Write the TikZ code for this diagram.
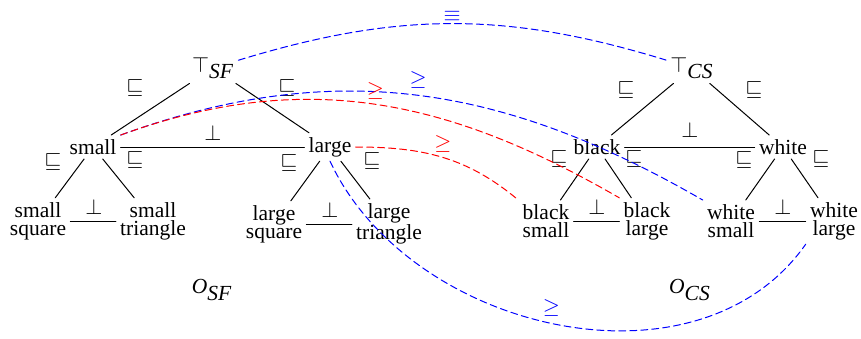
\documentclass[tikz,border=0pt]{standalone}
\usepackage{fontspec}
\setmainfont{Liberation Serif}
\definecolor{onto}{HTML}{000000}
\definecolor{equiv}{HTML}{0000FF}
\definecolor{order}{HTML}{FF0000}

\begin{document}
\begin{tikzpicture}[x=0.5pt,y=0.5pt,line cap=round,line join=round,
  font=\fontsize{10.75}{9}\selectfont,
  every node/.style={inner sep=2pt},
  concept/.style={align=center},
  rel/.style={inner sep=1pt},
  isa/.style={draw=onto,line width=.5pt},
  match/.style={dashed,dash pattern=on 3.5pt off 2pt,line width=.5pt}]
  \useasboundingbox (0,0) rectangle (861,338);
  % shape/feature ontology
  \node (topSF) at (213,270) {$\top_{\textit{SF}}$};
  \node (small) at (93,191) {small};
  \node (large) at (330,191) {large};
  \node[concept] (smallSq) at (38,117) {small\\square};
  \node[concept] (smallTri) at (153,117) {small\\triangle};
  \node[concept] (largeSq) at (274,114) {large\\square};
  \node[concept] (largeTri) at (389,114) {large\\triangle};
  \node (nameSF) at (212,48) {$\textit{O}_{\textit{SF}}$};
  % colour/shade ontology
  \node (topCS) at (692,270) {$\top_{\textit{CS}}$};
  \node (black) at (597,191) {black};
  \node (white) at (783,191) {white};
  \node[concept] (blackSm) at (546,117) {black\\small};
  \node[concept] (blackLg) at (647,117) {black\\large};
  \node[concept] (whiteSm) at (731,117) {white\\small};
  \node[concept] (whiteLg) at (834,117) {white\\large};
  \node (nameCS) at (690,48) {$\textit{O}_{\textit{CS}}$};

  \draw[isa] (topSF) -- (small);
  \draw[isa] (topSF) -- (large);
  \draw[isa] (small) -- (large);
  \draw[isa] (small) -- (smallSq);
  \draw[isa] (small) -- (smallTri);
  \draw[isa] (smallSq) -- (smallTri);
  \draw[isa] (large) -- (largeSq);
  \draw[isa] (large) -- (largeTri);
  \draw[isa] (largeSq) -- (largeTri);
  \draw[isa] (topCS) -- (black);
  \draw[isa] (topCS) -- (white);
  \draw[isa] (black) -- (white);
  \draw[isa] (black) -- (blackSm);
  \draw[isa] (black) -- (blackLg);
  \draw[isa] (blackSm) -- (blackLg);
  \draw[isa] (white) -- (whiteSm);
  \draw[isa] (white) -- (whiteLg);
  \draw[isa] (whiteSm) -- (whiteLg);

  % relation marks
  \node[rel] (s1) at (135,250) {$\sqsubseteq$};
  \node[rel] (s2) at (287,250) {$\sqsubseteq$};
  \node[rel] (s3) at (53,176) {$\sqsubseteq$};
  \node[rel] (s4) at (135,178) {$\sqsubseteq$};
  \node[rel] (s5) at (289,175) {$\sqsubseteq$};
  \node[rel] (s6) at (372,177) {$\sqsubseteq$};
  \node[rel] (s7) at (626,248) {$\sqsubseteq$};
  \node[rel] (s8) at (754,248) {$\sqsubseteq$};
  \node[rel] (s9) at (559,179) {$\sqsubseteq$};
  \node[rel] (s10) at (634,179) {$\sqsubseteq$};
  \node[rel] (s11) at (744,178) {$\sqsubseteq$};
  \node[rel] (s12) at (821,179) {$\sqsubseteq$};
  \node[rel] (d1) at (213,205) {$\perp$};
  \node[rel] (d2) at (94,131) {$\perp$};
  \node[rel] (d3) at (330,128) {$\perp$};
  \node[rel] (d4) at (690,208) {$\perp$};
  \node[rel] (d5) at (597,131) {$\perp$};
  \node[rel] (d6) at (783,131) {$\perp$};

  % alignment
  \draw[match,equiv] (topSF) to[out=17,in=163]
    node[midway,above=-1pt,text=equiv] (m1) {$\equiv$} (topCS);
  \draw[match,equiv] (small.north east) to[out=20,in=150]
    node[pos=.5,above=1pt,text=equiv] (m2) {$\geq$} (whiteSm.north west);
  \draw[match,order] (small.north east) to[out=20,in=150]
    node[pos=.5,above,text=order] (m3) {$\geq$} (blackLg.north west);
  \draw[match,order] (large.east) to[out=0,in=140]
    node[pos=.5,above=0pt,text=order] (m4) {$\geq$} (blackSm.north west);
  \draw[match,equiv] (large.south) to[out=-65,in=-125]
    node[pos=.49,above=1pt,text=equiv] (m5) {$\geq$} (whiteLg.south west);
\end{tikzpicture}
\end{document}
